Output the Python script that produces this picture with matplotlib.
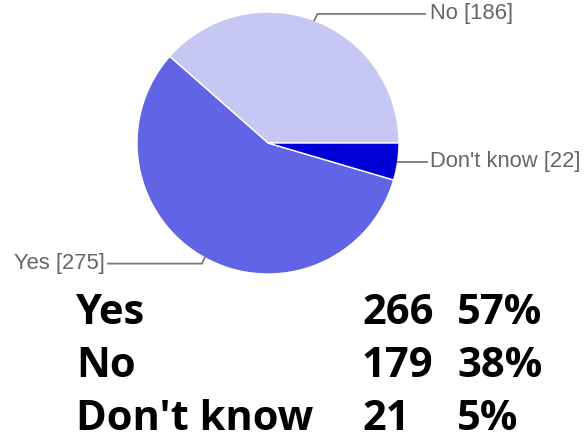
import numpy as np
import matplotlib.pyplot as plt

# pie data
labels = ["No", "Yes", "Don't know"]
counts = [186, 275, 22]
colors = ["#c6c8f3", "#6264e6", "#0000d6"]

# summary table under the chart
table_labels = ["Yes", "No", "Don't know"]
table_counts = [266, 179, 21]
table_pcts = [57, 38, 5]

W, H = 586, 441
fig = plt.figure(figsize=(W / 100, H / 100), dpi=100)
ax = fig.add_axes([0, 0, 1, 1])

# pie centre and radius in pixels
cx, cy, r = 268, 143, 131

wedges, _ = ax.pie(counts, colors=colors, startangle=0, counterclock=True,
                   wedgeprops=dict(edgecolor="white", linewidth=1))

ax.set_aspect("auto")
ax.set_xlim(-cx / r, (W - cx) / r)
ax.set_ylim((cy - H) / r, cy / r)
ax.axis("off")

# leader lines + labels
line_col = "#7a7a7a"
text_col = "#666666"
fs = 15.8
for w, lab, n in zip(wedges, labels, counts):
    mid = np.deg2rad((w.theta1 + w.theta2) / 2)
    x0, y0 = np.cos(mid), np.sin(mid)
    if lab == "No":
        x1, y1 = x0 + 0.025, y0 + 0.05
        x2 = (425 - cx) / r
        ax.plot([x0, x1, x2], [y0, y1, y1], color=line_col, lw=1.3)
        ax.text(x2 + 5 / r, y1, f"{lab} [{n}]", color=text_col, fontsize=fs,
                family="Liberation Sans", ha="left", va="center")
    elif lab == "Yes":
        x1, y1 = x0 - 0.02, y0 - 0.045
        x2 = (108 - cx) / r
        ax.plot([x0, x1, x2], [y0, y1, y1], color=line_col, lw=1.3)
        ax.text(x2 - 3 / r, y1, f"{lab} [{n}]", color=text_col, fontsize=fs,
                family="Liberation Sans", ha="right", va="center")
    else:
        x2 = (427 - cx) / r
        ax.plot([x0, x2], [y0, y0], color=line_col, lw=1.3)
        ax.text(x2 + 3 / r, y0, f"{lab} [{n}]", color=text_col, fontsize=fs,
                family="Liberation Sans", ha="left", va="center")

# table text
col_x = [76, 362, 457]
base_y = 324
for i, (lab, n, p) in enumerate(zip(table_labels, table_counts, table_pcts)):
    y = 1 - (base_y + 53 * i) / H
    for x, s in zip(col_x, [lab, str(n), f"{p}%"]):
        fig.text(x / W, y, s, fontsize=30, fontweight="bold",
                 family=["Open Sans", "DejaVu Sans"], color="black",
                 ha="left", va="baseline")

fig.savefig("out.png", dpi=100)
